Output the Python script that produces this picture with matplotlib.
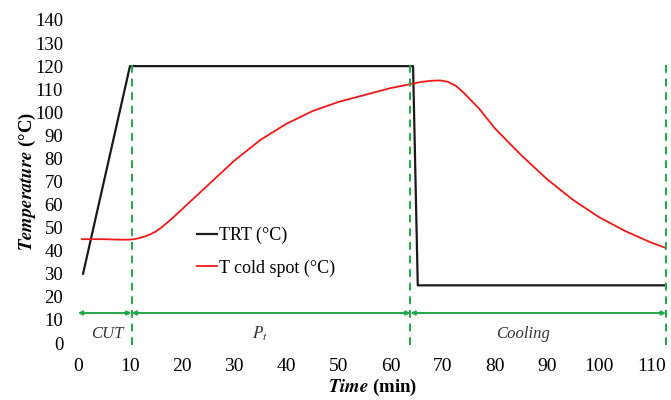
import numpy as np
import matplotlib
matplotlib.use('Agg')
import matplotlib.pyplot as plt

plt.rcParams['font.family'] = ['Liberation Serif', 'DejaVu Serif']
plt.rcParams['mathtext.fontset'] = 'stix'

# =====[ Data ]=====
trt_time = [1, 10, 63.8, 64.3, 65.2, 113]
trt_temp = [30, 120, 120, 120, 25, 25]

cold_time = [0.8, 5, 8, 10, 11, 12, 13, 14, 15, 16, 18, 20, 25, 30, 35, 40, 45,
             50, 55, 60, 64, 66, 68, 69.5, 71, 72.5, 74, 77, 80, 85, 90, 95,
             100, 105, 110, 113]
cold_temp = [45, 45, 44.8, 44.8, 45.1, 45.6, 46.3, 47.2, 48.4, 50, 53.8, 58,
             68.5, 79, 88, 95, 100.5, 104.5, 107.5, 110.5, 112.3, 113.2, 113.7,
             113.8, 113.2, 111.5, 108.5, 101.5, 93, 81.5, 71, 62, 54.5, 48.5,
             43.5, 41]

phase_bounds = [0, 10.3, 63.8, 112.8]
phase_names = ['CUT', r'$\mathit{P_t}$', 'Cooling']
phase_label_x = [5.7, 34.9, 85.3]
arrow_level = 13

yticks = list(range(0, 141, 10))
xticks = list(range(0, 111, 10))

green = '#20a848'

# =====[ Plot ]=====
fig = plt.figure(figsize=(6.71, 4.0), dpi=100)
ax = fig.add_axes([0.116, 0.1425, 0.878, 0.8075])

ax.plot(trt_time, trt_temp, color='#1a1a1a', lw=1.6, label='TRT (°C)')
ax.plot(cold_time, cold_temp, color='#f01818', lw=1.3, label='T cold spot (°C)')

for xb in phase_bounds[1:]:
    ax.plot([xb, xb], [-1, 121.5], color=green, lw=1.4, ls=(0, (4, 3)),
            clip_on=False)

for i in range(3):
    ax.annotate('', xy=(phase_bounds[i + 1], arrow_level),
                xytext=(phase_bounds[i], arrow_level),
                arrowprops=dict(arrowstyle='<|-|>', color=green, lw=1.4,
                                shrinkA=0, shrinkB=0, mutation_scale=6))
    ax.text(phase_label_x[i], 4.0, phase_names[i], ha='center', va='center',
            fontsize=12, style='italic', color='#333333')

ax.set_xlim(0, 113)
ax.set_ylim(0, 140)
ax.set_xticks(xticks)
ax.set_yticks(yticks)
ax.tick_params(length=0, labelsize=14, pad=11)
ax.tick_params(axis='y', labelsize=13.5, pad=10.5)
for s in ax.spines.values():
    s.set_visible(False)

ax.set_ylabel(r'$\mathbfit{Temperature}$ (°C)', fontsize=13.5, fontweight='bold',
              labelpad=-2)
ax.set_xlabel(r'$\mathbfit{Time}$ (min)', fontsize=13.5, fontweight='bold',
              labelpad=1)

ax.legend(loc='upper left', bbox_to_anchor=(0.175, 0.41), frameon=False,
          fontsize=13, handlelength=1.1, handletextpad=0.1, labelspacing=0.85)

fig.savefig('out.png', dpi=100)
